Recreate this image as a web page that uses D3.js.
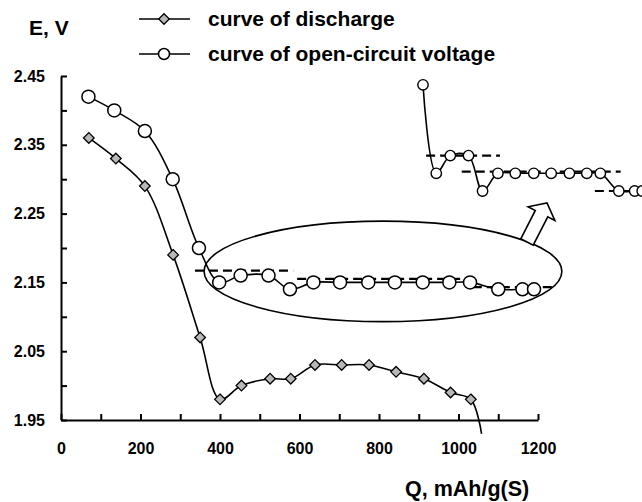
<!DOCTYPE html>
<meta charset="utf-8">
<style>
  body { margin: 0; background: white; }
  text { font-family: "Liberation Sans", Arial, sans-serif; font-weight: bold; fill: black; }
  .axis path, .axis line { stroke: black; stroke-width: 2px; }
  .axis text { font-size: 16px; }
  .curve { fill: none; stroke: black; stroke-width: 1.6px; }
  .dash { stroke: black; stroke-width: 2.2px; stroke-dasharray: 9,5; }
</style>
<body>
<script src="https://cdn.jsdelivr.net/npm/d3@7"></script>
<script>

// discharge curve (diamonds); last point is the tail of the line, no marker
const dischQ = [70, 138, 211, 282, 350, 400, 454, 526, 578, 639, 706, 775, 843, 913, 980, 1031, 1058]
const dischE = [2.36, 2.33, 2.29, 2.19, 2.07, 1.98, 2.00, 2.01, 2.01, 2.03, 2.03, 2.03, 2.02, 2.01, 1.99, 1.98, 1.93]

// open-circuit voltage (circles)
const ocvQ = [69, 134, 211, 281, 347, 398, 452, 522, 576, 635, 702, 773, 840, 910, 977, 1029, 1100, 1161, 1190]
const ocvE = [2.42, 2.40, 2.37, 2.30, 2.20, 2.15, 2.16, 2.16, 2.14, 2.15, 2.15, 2.15, 2.15, 2.15, 2.15, 2.15, 2.14, 2.14, 2.14]

// ticks
const xTicks = [0, 100, 200, 300, 400, 500, 600, 700, 800, 900, 1000, 1100, 1200]
const xTickLabels = ["0", "", "200", "", "400", "", "600", "", "800", "", "1000", "", "1200"]
const yTicks = [1.95, 2.00, 2.05, 2.10, 2.15, 2.20, 2.25, 2.30, 2.35, 2.40, 2.45]
const yTickLabels = ["1.95", "", "2.05", "", "2.15", "", "2.25", "", "2.35", "", "2.45"]

// dashed plateau levels, main plot
const dashLevels = [2.167, 2.155, 2.143]
const dashFrom = [337, 594, 1036]
const dashTo = [584, 1029, 1238]

// dashed plateau levels, zoomed inset
const insetDashLevels = [2.160, 2.151, 2.140]
const insetDashFrom = [359, 496, 1008]
const insetDashTo = [643, 1107, 1300]

// ellipse around the plateau (data units)
const ellipseCenter = [810, 2.166]
const ellipseRadii = [450, 0.073]

const legendLabels = ["curve of discharge", "curve of open-circuit voltage"]

const W = 642, H = 502

const svg = d3.select("body").append("svg")
  .attr("width", W)
  .attr("height", H)

const x = d3.scaleLinear().domain([0, 1200]).range([61, 538])
const y = d3.scaleLinear().domain([1.95, 2.45]).range([420, 76])

// inset scales (the plateau magnified)
const xIn = d3.scaleLinear().domain([347, 1190]).range([423, 642.2])
const yIn = d3.scaleLinear().domain([2.14, 2.20]).range([191, 84.8])

const curve = d3.curveCatmullRom.alpha(0.5)

// axes
svg.append("g")
  .attr("class", "axis")
  .attr("transform", `translate(0, ${y(1.95)})`)
  .call(d3.axisBottom(x)
    .tickValues(xTicks)
    .tickFormat((d, i) => xTickLabels[i])
    .tickSizeInner(-6)
    .tickSizeOuter(0)
    .tickPadding(23))

svg.append("g")
  .attr("class", "axis")
  .attr("transform", `translate(${x(0)}, 0)`)
  .call(d3.axisLeft(y)
    .tickValues(yTicks)
    .tickFormat((d, i) => yTickLabels[i])
    .tickSizeInner(-6)
    .tickSizeOuter(0)
    .tickPadding(16))

svg.append("text")
  .attr("x", 29).attr("y", 35)
  .style("font-size", "21px")
  .text("E, V")

svg.append("text")
  .attr("x", 405).attr("y", 496)
  .style("font-size", "21.5px")
  .text("Q, mAh/g(S)")

// ellipse and arrow
svg.append("ellipse")
  .attr("cx", x(ellipseCenter[0]))
  .attr("cy", y(ellipseCenter[1]))
  .attr("rx", x(ellipseCenter[0] + ellipseRadii[0]) - x(ellipseCenter[0]))
  .attr("ry", y(ellipseCenter[1] - ellipseRadii[1]) - y(ellipseCenter[1]))
  .attr("fill", "none")
  .attr("stroke", "black")
  .attr("stroke-width", 1.6)

function blockArrow(base, tip, shaftHalf, headHalf, headLen) {
  const dx = tip[0] - base[0], dy = tip[1] - base[1]
  const len = Math.hypot(dx, dy)
  const u = [dx / len, dy / len], n = [-u[1], u[0]]
  const neck = [tip[0] - u[0] * headLen, tip[1] - u[1] * headLen]
  const p = (o, s) => [o[0] + n[0] * s, o[1] + n[1] * s]
  return [p(base, shaftHalf), p(neck, shaftHalf), p(neck, headHalf), tip,
          p(neck, -headHalf), p(neck, -shaftHalf), p(base, -shaftHalf)]
}

svg.append("path")
  .attr("d", d3.line()(blockArrow([527, 242], [547, 203], 7, 15, 12)) + "Z")
  .attr("fill", "white")
  .attr("stroke", "black")
  .attr("stroke-width", 1.6)

// dashed lines
svg.selectAll(".dashMain")
  .data(dashLevels)
  .enter().append("line")
    .attr("class", "dash")
    .attr("x1", (d, i) => x(dashFrom[i]))
    .attr("x2", (d, i) => x(dashTo[i]))
    .attr("y1", d => y(d))
    .attr("y2", d => y(d))

svg.selectAll(".dashInset")
  .data(insetDashLevels)
  .enter().append("line")
    .attr("class", "dash")
    .attr("x1", (d, i) => xIn(insetDashFrom[i]))
    .attr("x2", (d, i) => xIn(insetDashTo[i]))
    .attr("y1", d => yIn(d))
    .attr("y2", d => yIn(d))

// curves
const disch = dischQ.map((q, i) => [q, dischE[i]])
const ocv = ocvQ.map((q, i) => [q, ocvE[i]])
const inset = ocv.slice(4)

const lineMain = d3.line().x(d => x(d[0])).y(d => y(d[1])).curve(curve)
const lineInset = d3.line().x(d => xIn(d[0])).y(d => yIn(d[1])).curve(curve)

svg.append("path").attr("class", "curve").attr("d", lineMain(disch))
svg.append("path").attr("class", "curve").attr("d", lineMain(ocv))
svg.append("path").attr("class", "curve").attr("d", lineInset(inset))

const diamond = d3.symbol().type(d3.symbolDiamond2).size(72)

svg.selectAll(".diamond")
  .data(disch.slice(0, disch.length - 1))
  .enter().append("path")
    .attr("class", "diamond")
    .attr("transform", d => `translate(${x(d[0])}, ${y(d[1])})`)
    .attr("d", diamond)
    .attr("fill", "#b8b8b8")
    .attr("stroke", "black")
    .attr("stroke-width", 1.3)

svg.selectAll(".circ")
  .data(ocv)
  .enter().append("circle")
    .attr("class", "circ")
    .attr("cx", d => x(d[0]))
    .attr("cy", d => y(d[1]))
    .attr("r", 6.5)
    .attr("fill", "white")
    .attr("stroke", "black")
    .attr("stroke-width", 1.5)

svg.selectAll(".circIn")
  .data(inset)
  .enter().append("circle")
    .attr("class", "circIn")
    .attr("cx", d => xIn(d[0]))
    .attr("cy", d => yIn(d[1]))
    .attr("r", 5.2)
    .attr("fill", "white")
    .attr("stroke", "black")
    .attr("stroke-width", 1.4)

// legend
const legend = svg.append("g")
legendLabels.forEach((lab, i) => {
  const ly = 19 + i * 35
  legend.append("line")
    .attr("x1", 139).attr("x2", 190)
    .attr("y1", ly).attr("y2", ly)
    .attr("stroke", "black").attr("stroke-width", 1.6)
  if (i === 0) {
    legend.append("path")
      .attr("transform", `translate(164, ${ly})`)
      .attr("d", diamond)
      .attr("fill", "#b8b8b8")
      .attr("stroke", "black")
      .attr("stroke-width", 1.3)
  } else {
    legend.append("circle")
      .attr("cx", 164).attr("cy", ly).attr("r", 5.5)
      .attr("fill", "white")
      .attr("stroke", "black")
      .attr("stroke-width", 1.5)
  }
  legend.append("text")
    .attr("x", 208).attr("y", ly + 7)
    .style("font-size", "21px")
    .text(lab)
})

</script>
</body>
</html>
